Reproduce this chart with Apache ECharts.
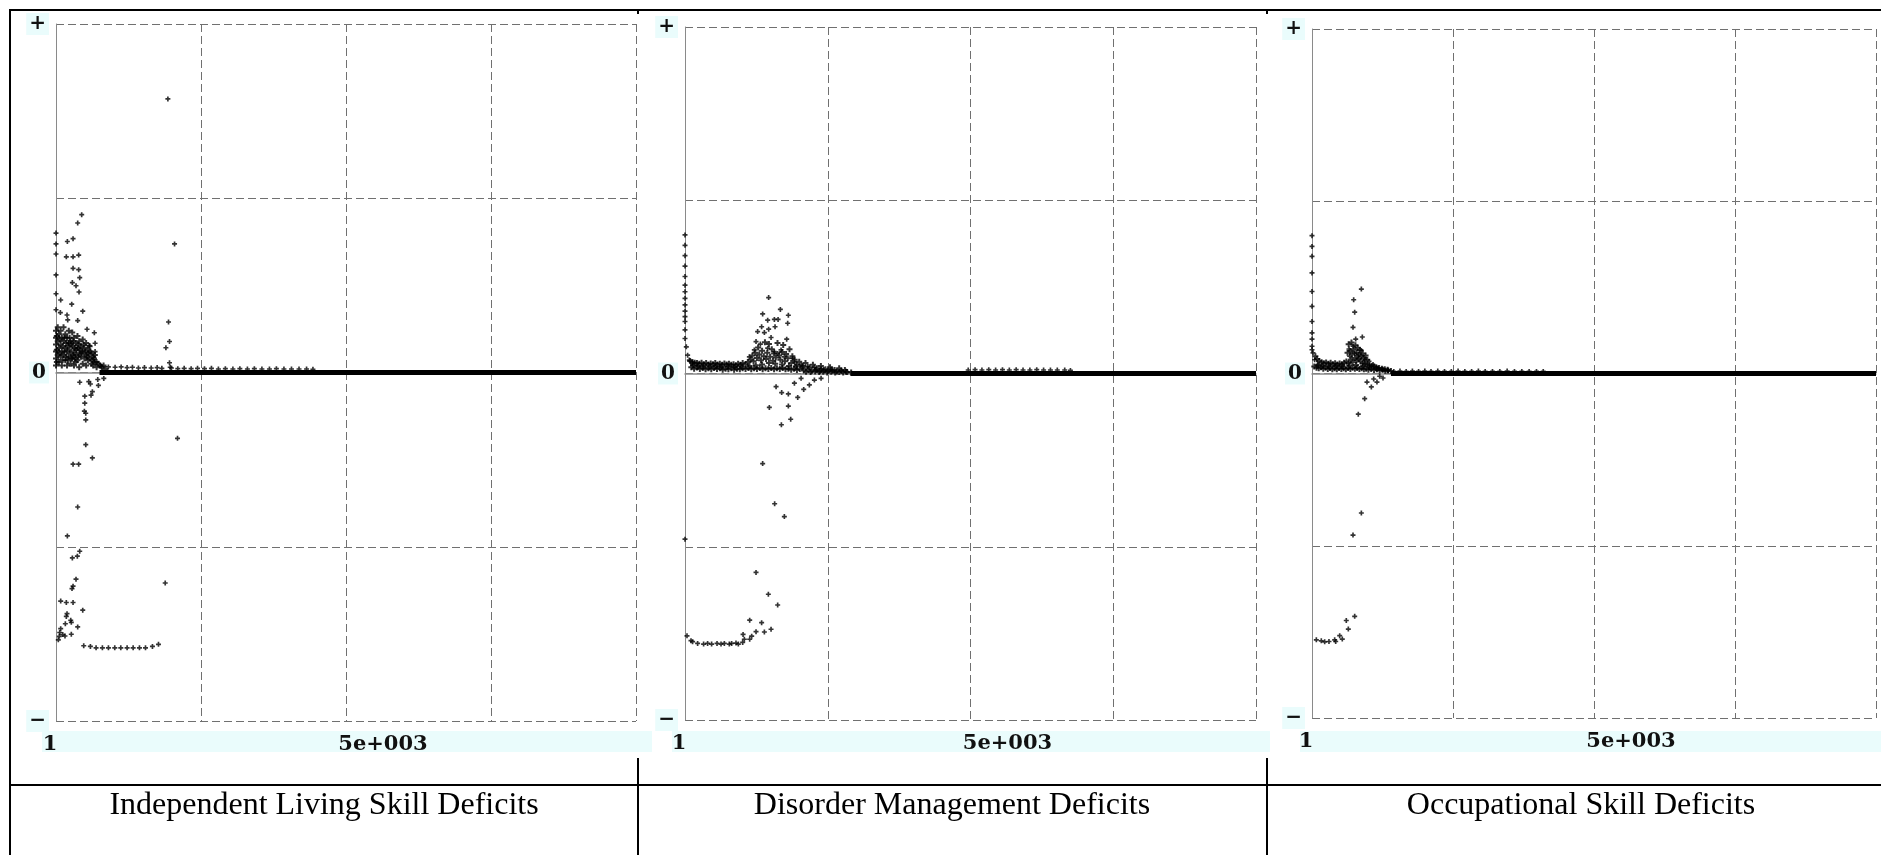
<!DOCTYPE html>
<html>
<head>
<meta charset="utf-8">
<script src="https://cdn.jsdelivr.net/npm/echarts@6/dist/echarts.min.js"></script>
<style>
html,body{margin:0;padding:0;background:#fff;}
#chart{width:1881px;height:855px;}
</style>
</head>
<body>
<div id="chart"></div>
<script>
// ---------- text ----------
const panelTitles = ['Independent Living Skill Deficits', 'Disorder Management Deficits', 'Occupational Skill Deficits'];
const yTickText = { '1': '+', '0': '0', '-1': '\u2212' };
const xMinLabel = '1';
const xMidLabel = '5e+003';

// ---------- Panel 1: Independent Living Skill Deficits ----------
const p1Outliers = [
  [1929,0.785],[2044,0.369],[443,0.453],[374,0.429],[294,0.384],[196,0.376],[0,0.40],[0,0.369],[0,0.34],
  [178,0.332],[294,0.332],[391,0.337],[294,0.299],[391,0.295],[409,0.272],[282,0.258],[345,0.249],[397,0.231],
  [0,0.28],[0,0.226],[81,0.208],[271,0.196],[461,0.176],[0,0.18],[75,0.172],[190,0.165],[202,0.151],[374,0.149],
  [535,0.124],[661,0.114],[674,0.084],[575,0.077],[674,0.06],[1940,0.145],[1957,0.089],[1895,0.071],[1957,0.028],[1969,0.015],
  [409,-0.028],[565,-0.026],[593,-0.033],[731,-0.037],[720,-0.02],[824,-0.017],[627,-0.055],[604,-0.065],[496,-0.068],
  [496,-0.088],[489,-0.111],[513,-0.117],[513,-0.136],[513,-0.207],[627,-0.245],[294,-0.263],[391,-0.263],[2095,-0.189],
  [374,-0.386],[196,-0.469],[409,-0.513],[368,-0.527],[282,-0.532],[345,-0.593],[294,-0.613],[276,-0.62],[1883,-0.604],
  [81,-0.656],[178,-0.66],[294,-0.66],[461,-0.682],[190,-0.692],[178,-0.70],[254,-0.711],[264,-0.717],[161,-0.721],
  [374,-0.73],[81,-0.735],[64,-0.746],[116,-0.752],[155,-0.756],[264,-0.751],[40,-0.767],[57,-0.757],
  [478,-0.784],[593,-0.786],[691,-0.79],[800,-0.79],[904,-0.79],[1013,-0.79],[1117,-0.79],[1226,-0.79],[1330,-0.79],
  [1439,-0.79],[1543,-0.79],[1663,-0.786],[1767,-0.78]
];
const p1Cloud = [
  [0,0.12],[0,0.1],[0,0.08],[0,0.06],[0,0.04],[0,0.02],[30,0.13],[30,0.09],[30,0.05],[50,0.11],[50,0.07],[50,0.03],
  [80,0.12],[80,0.08],[80,0.045],[100,0.1],[100,0.06],[100,0.02],[130,0.13],[130,0.09],[130,0.05],[160,0.11],[160,0.07],
  [160,0.035],[190,0.1],[190,0.06],[190,0.02],[220,0.12],[220,0.085],[220,0.045],[250,0.09],[250,0.055],[250,0.025],
  [280,0.115],[280,0.075],[280,0.04],[310,0.1],[310,0.06],[310,0.02],[340,0.085],[340,0.05],[340,0.03],[370,0.105],
  [370,0.07],[370,0.035],[400,0.09],[400,0.055],[400,0.015],[430,0.075],[430,0.045],[460,0.095],[460,0.06],[460,0.025],
  [490,0.07],[490,0.04],[520,0.085],[520,0.05],[520,0.02],[550,0.065],[550,0.035],[580,0.075],[580,0.04],[610,0.055],
  [610,0.025],[640,0.045],[640,0.02],[670,0.05],[670,0.03],[700,0.03],[700,0.015],[730,0.025],[760,0.02],[790,0.015],
  [820,0.02],[850,0.01],
  [15,0.105],[15,0.065],[15,0.03],[65,0.095],[65,0.055],[115,0.075],[115,0.035],[145,0.1],[145,0.06],[175,0.085],
  [175,0.045],[205,0.075],[205,0.035],[235,0.1],[235,0.065],[265,0.08],[265,0.04],[295,0.09],[295,0.05],[325,0.07],
  [325,0.04],[355,0.065],[385,0.08],[385,0.045],[415,0.065],[445,0.055],[475,0.08],[505,0.06],[535,0.045],[565,0.055],
  [595,0.06],[625,0.035],[655,0.04]
];
const p1Dots = [
  [780,0.018],[903,0.016],[1019,0.015],[1123,0.016],[1226,0.014],[1318,0.015],[1421,0.013],[1525,0.014],[1641,0.013],
  [1744,0.014],[1825,0.012],[1990,0.013],[2100,0.011],[2210,0.012],[2330,0.011],[2440,0.012],[2560,0.011],[2680,0.012],
  [2800,0.01],[2920,0.011],[3050,0.01],[3170,0.011],[3300,0.01],[3420,0.011],[3550,0.01],[3680,0.01],[3800,0.011],
  [3930,0.01],[4060,0.01],[4190,0.01],[4320,0.01],[4430,0.009]
];
const p1Band = [[750,0],[10000,0]];

// ---------- Panel 2: Disorder Management Deficits ----------
const p2Outliers = [
  [0,0.40],[0,0.37],[0,0.34],[0,0.31],[0,0.28],[0,0.255],[0,0.236],[0,0.217],[0,0.198],[0,0.18],[0,0.164],[0,0.15],
  [0,0.126],[0,0.101],[0,-0.478],[23,0.077],[46,0.053],[75,0.039],[133,0.029],
  [1465,0.219],[1360,0.172],[1670,0.185],[1810,0.168],[1448,0.154],[1565,0.156],[1630,0.156],[1577,0.135],[1798,0.145],
  [1342,0.135],[1465,0.128],[1272,0.121],[1390,0.118],[1507,0.104],[1781,0.099],[1244,0.092],[1320,0.085],[1682,0.068],
  [1623,0.058],[1740,0.048],[1127,0.048],[1214,0.068],[1448,0.073],[1565,0.063],[1886,0.044],[1916,0.034],[2033,0.025],
  [2149,0.02],[2266,0.018],[2383,0.014],[2558,0.012],[2734,0.008],
  [1595,-0.038],[1693,-0.055],[1810,-0.059],[1916,-0.028],[2033,-0.014],[1974,-0.069],[2079,-0.046],[2178,-0.033],
  [2266,-0.019],[2383,-0.014],[1477,-0.098],[1810,-0.094],[1688,-0.148],[1851,-0.132],[1360,-0.26],[1570,-0.376],
  [1740,-0.413],[1244,-0.574],[1460,-0.637],[1623,-0.668],[1133,-0.712],[1342,-0.719],[1507,-0.738],[1244,-0.745],
  [1390,-0.746],[1168,-0.758],[1017,-0.753],[1133,-0.767],[1039,-0.767],[35,-0.757],
  [105,-0.771],[133,-0.774],[221,-0.779],[326,-0.781],[396,-0.779],[466,-0.781],[561,-0.779],[631,-0.781],[689,-0.779],
  [776,-0.781],[817,-0.779],[893,-0.778],[934,-0.781],[1010,-0.776]
];
const p2Cloud = [
  [90,0.036],[130,0.033],[170,0.031],[210,0.03],[250,0.028],[290,0.031],[330,0.027],[370,0.03],[410,0.026],[450,0.029],
  [490,0.027],[530,0.03],[570,0.026],[610,0.028],[650,0.025],[690,0.029],[730,0.026],[770,0.028],[810,0.025],[850,0.027],
  [890,0.024],[930,0.028],[970,0.025],[1010,0.03],[1060,0.027],[1100,0.033],
  [110,0.018],[160,0.014],[210,0.017],[260,0.013],[310,0.016],[360,0.012],[410,0.015],[460,0.012],[510,0.016],[560,0.013],
  [610,0.015],[660,0.011],[710,0.014],[760,0.012],[810,0.015],[860,0.011],[910,0.014],[960,0.012],[1010,0.015],[1060,0.013],
  [1110,0.016],[1160,0.012],[1210,0.015],[1260,0.013],[1310,0.016],[1360,0.012],[1410,0.015],[1460,0.013],[1510,0.016],
  [1560,0.012],[1610,0.015],[1660,0.013],[1710,0.016],[1760,0.012],[1810,0.014],[1860,0.011],[1910,0.014],[1960,0.01],
  [2010,0.013],[2080,0.009],[2150,0.012],[2220,0.008],[2290,0.011],[2360,0.007],[2430,0.01],[2500,0.007],[2580,0.009],
  [2660,0.006],[2740,0.008],[2820,0.005],
  [140,0.024],[230,0.022],[320,0.021],[430,0.02],[540,0.021],[640,0.019],[750,0.02],[870,0.019],[990,0.02],[1130,0.022],
  [1240,0.024],[1350,0.026],[1470,0.03],[1580,0.028],[1700,0.026],[1820,0.022],[1940,0.02],[2060,0.017],
  [2120,0.005],[2200,0.004],[2280,0.006],[2350,0.004],[2420,0.005],[2490,0.003],[2560,0.005],[2630,0.003],[2700,0.004],
  [2770,0.003],[2840,0.004],[2910,0.003],
  [1150,0.04],[1180,0.052],[1200,0.035],[1230,0.06],[1260,0.045],[1280,0.075],[1300,0.055],[1330,0.038],[1350,0.066],
  [1380,0.05],[1400,0.09],[1420,0.042],[1440,0.06],[1470,0.085],[1490,0.048],[1520,0.07],[1540,0.037],[1560,0.058],
  [1590,0.046],[1620,0.088],[1650,0.052],[1670,0.04],[1700,0.062],[1720,0.082],[1750,0.035],[1770,0.056],[1800,0.044],
  [1830,0.07],[1860,0.03],[1880,0.05],[1920,0.04],[1960,0.025],[2000,0.034],[2060,0.022],[2110,0.03],[2180,0.018],
  [2240,0.025],[2310,0.015],[2380,0.022],[2460,0.012],[2540,0.018],[2620,0.01],[2700,0.015],[2800,0.01]
];
const p2Dots = [
  [4960,0.01],[5080,0.011],[5200,0.01],[5320,0.011],[5440,0.01],[5560,0.011],[5680,0.01],[5800,0.011],[5920,0.01],
  [6040,0.01],[6160,0.011],[6280,0.01],[6400,0.01],[6520,0.01],[6650,0.01],[6750,0.009]
];
const p2Band = [[2900,0],[10000,0]];

// ---------- Panel 3: Occupational Skill Deficits ----------
const p3Outliers = [
  [0,0.40],[0,0.369],[0,0.34],[0,0.292],[0,0.238],[0,0.195],[0,0.151],[0,0.118],[0,0.1],[0,0.079],[0,0.069],
  [18,0.06],[47,0.04],[106,0.026],
  [875,0.245],[739,0.214],[757,0.178],[727,0.134],[892,0.106],[775,0.1],[727,0.079],[656,0.071],[875,0.067],[757,0.059],
  [668,0.05],[816,0.05],[934,0.04],[1011,0.035],[1082,0.026],[1170,0.016],[1259,0.011],[1348,0.009],
  [975,-0.025],[1094,-0.016],[1152,-0.025],[1052,-0.039],[1200,-0.008],[1259,-0.013],[934,-0.073],[821,-0.118],
  [875,-0.405],[727,-0.469],[757,-0.705],[608,-0.717],[644,-0.742],[491,-0.761],[537,-0.771],[420,-0.778],[402,-0.773],
  [301,-0.778],[225,-0.779],[165,-0.776],[77,-0.773]
];
const p3Cloud = [
  [60,0.05],[90,0.042],[130,0.036],[170,0.033],[210,0.03],[250,0.032],[290,0.028],[330,0.031],[370,0.027],[410,0.03],
  [450,0.026],[490,0.029],[530,0.027],[570,0.031],[610,0.035],[650,0.03],[690,0.04],[720,0.033],[760,0.045],[790,0.038],
  [830,0.042],[860,0.035],[900,0.03],[940,0.028],[980,0.026],[1020,0.024],[1060,0.022],[1100,0.02],[1140,0.018],
  [1190,0.016],[1240,0.014],[1290,0.012],[1340,0.011],
  [40,0.02],[80,0.017],[120,0.015],[160,0.018],[200,0.014],[240,0.017],[280,0.013],[320,0.016],[360,0.012],[400,0.015],
  [440,0.012],[480,0.016],[520,0.013],[560,0.015],[600,0.012],[640,0.016],[680,0.013],[720,0.017],[760,0.014],[800,0.016],
  [840,0.013],[880,0.015],[920,0.012],[960,0.014],[1000,0.011],[1050,0.013],[1100,0.01],[1150,0.012],[1200,0.009],
  [1250,0.011],[1300,0.008],[1350,0.009],[1400,0.007],
  [100,0.024],[190,0.022],[300,0.021],[420,0.022],[540,0.021],[660,0.023],[780,0.025],[900,0.021],[1020,0.018],[1140,0.015],
  [630,0.06],[650,0.085],[680,0.065],[700,0.09],[710,0.055],[740,0.07],[770,0.082],[790,0.06],[810,0.075],[830,0.055],
  [850,0.068],[870,0.05],[900,0.058],[920,0.045],[950,0.052],[980,0.04]
];
const p3Dots = [
  [1450,0.006],[1560,0.007],[1670,0.006],[1780,0.007],[1890,0.006],[2000,0.007],[2110,0.006],[2230,0.007],[2350,0.006],
  [2470,0.006],[2590,0.007],[2710,0.006],[2830,0.006],[2950,0.007],[3070,0.006],[3200,0.006],[3330,0.006],[3460,0.007],
  [3590,0.006],[3720,0.006],[3850,0.006],[3980,0.006],[4100,0.006]
];
const p3Band = [[1400,0],[10000,0]];

// ---------- layout ----------
const grids = [
  { left: 56, top: 24, width: 580, height: 697 },
  { left: 685, top: 27, width: 571, height: 693 },
  { left: 1312, top: 29, width: 564, height: 689 }
];
const panels = [
  { outliers: p1Outliers, cloud: p1Cloud, dots: p1Dots, band: p1Band },
  { outliers: p2Outliers, cloud: p2Cloud, dots: p2Dots, band: p2Band },
  { outliers: p3Outliers, cloud: p3Cloud, dots: p3Dots, band: p3Band }
];
const cyan = '#eafcfc';
const gridColor = '#707070';
const plusSymbol = 'path://M2,0H4V2H6V4H4V6H2V4H0V2H2Z';
const labelFont = 'DejaVu Serif';

const xAxes = [], yAxes = [], series = [];
grids.forEach((g, i) => {
  xAxes.push({
    type: 'value', gridIndex: i, min: 0, max: 10000, interval: 2500, position: 'bottom',
    axisLine: { show: false, onZero: false }, axisTick: { show: false },
    splitLine: { show: true, lineStyle: { type: [8, 4], color: gridColor, width: 1 } },
    axisLabel: {
      show: true, margin: 13, showMinLabel: true, showMaxLabel: true,
      fontFamily: labelFont, fontWeight: 'bold', fontSize: 21, color: '#111',
      formatter: v => v === 0 ? '{a|' + xMinLabel + '}' : (v === 5000 ? '{b|' + xMidLabel + '}' : ''),
      rich: {
        a: { fontFamily: labelFont, fontWeight: 'bold', fontSize: 21, color: '#111', padding: [0, 12, 0, 0] },
        b: { fontFamily: labelFont, fontWeight: 'bold', fontSize: 21, color: '#111', padding: [0, 0, 0, 74] }
      }
    }
  });
  yAxes.push({
    type: 'value', gridIndex: i, min: -1, max: 1, interval: 0.5,
    axisLine: { show: true, onZero: false, lineStyle: { color: '#8a8a8a', width: 1 } },
    axisTick: { show: false },
    splitLine: { show: true, lineStyle: { type: [8, 4], color: gridColor, width: 1 } },
    axisLabel: {
      show: true, margin: 7,
      formatter: v => {
        const t = yTickText[String(v)];
        return t ? '{c|' + t + '}' : '';
      },
      rich: {
        c: { fontFamily: labelFont, fontSize: 20, fontWeight: 'bold', color: '#111',
             backgroundColor: cyan, padding: [1, 3, 1, 3] }
      }
    }
  });
});
// zero lines (solid gray) as extra x axes sitting on y = 0
grids.forEach((g, i) => {
  xAxes.push({
    type: 'value', gridIndex: i, min: 0, max: 10000, position: 'top',
    axisLine: { show: true, onZero: true, lineStyle: { color: '#8a8a8a', width: 1.5 } },
    axisTick: { show: false }, axisLabel: { show: false }, splitLine: { show: false }
  });
});

panels.forEach((p, i) => {
  series.push({
    type: 'line', xAxisIndex: i, yAxisIndex: i, data: p.band, symbol: 'none', silent: true,
    lineStyle: { color: '#000', width: 5 }, z: 3, animation: false
  });
  [p.cloud, p.dots, p.outliers].forEach((arr, k) => {
    series.push({
      type: 'scatter', xAxisIndex: i, yAxisIndex: i, data: arr, symbol: plusSymbol, symbolSize: k === 0 ? 6 : 5,
      itemStyle: { color: '#000' }, silent: true, z: 4, animation: false, clip: false
    });
  });
});

// table lines, label bands and cell titles
const lineStyle = { stroke: '#000', lineWidth: 2 };
const graphics = [
  { type: 'line', shape: { x1: 9, y1: 10, x2: 1881, y2: 10 }, style: lineStyle, z: 10 },
  { type: 'line', shape: { x1: 10, y1: 9, x2: 10, y2: 855 }, style: lineStyle, z: 10 },
  { type: 'line', shape: { x1: 9, y1: 785, x2: 1881, y2: 785 }, style: lineStyle, z: 10 },
  { type: 'line', shape: { x1: 638, y1: 758, x2: 638, y2: 855 }, style: lineStyle, z: 10 },
  { type: 'line', shape: { x1: 1267, y1: 758, x2: 1267, y2: 855 }, style: lineStyle, z: 10 },
  { type: 'line', shape: { x1: 638, y1: 10, x2: 638, y2: 14 }, style: lineStyle, z: 10 },
  { type: 'line', shape: { x1: 1267, y1: 10, x2: 1267, y2: 14 }, style: lineStyle, z: 10 },
  { type: 'rect', shape: { x: 42, y: 731, width: 610, height: 21 }, style: { fill: cyan }, z: -1 },
  { type: 'rect', shape: { x: 672, y: 731, width: 598, height: 21 }, style: { fill: cyan }, z: -1 },
  { type: 'rect', shape: { x: 1300, y: 731, width: 581, height: 21 }, style: { fill: cyan }, z: -1 }
];
const titleCenters = [324, 952, 1581];
panelTitles.forEach((t, i) => {
  graphics.push({
    type: 'text', x: titleCenters[i], y: 806, z: 10,
    style: { text: t, fill: '#000', font: '32px "Liberation Serif"', textAlign: 'center', textVerticalAlign: 'middle' }
  });
});

const chart = echarts.init(document.getElementById('chart'), null, { renderer: 'canvas' });
chart.setOption({
  animation: false,
  backgroundColor: '#fff',
  grid: grids,
  xAxis: xAxes,
  yAxis: yAxes,
  series: series,
  graphic: graphics
});
</script>
</body>
</html>
